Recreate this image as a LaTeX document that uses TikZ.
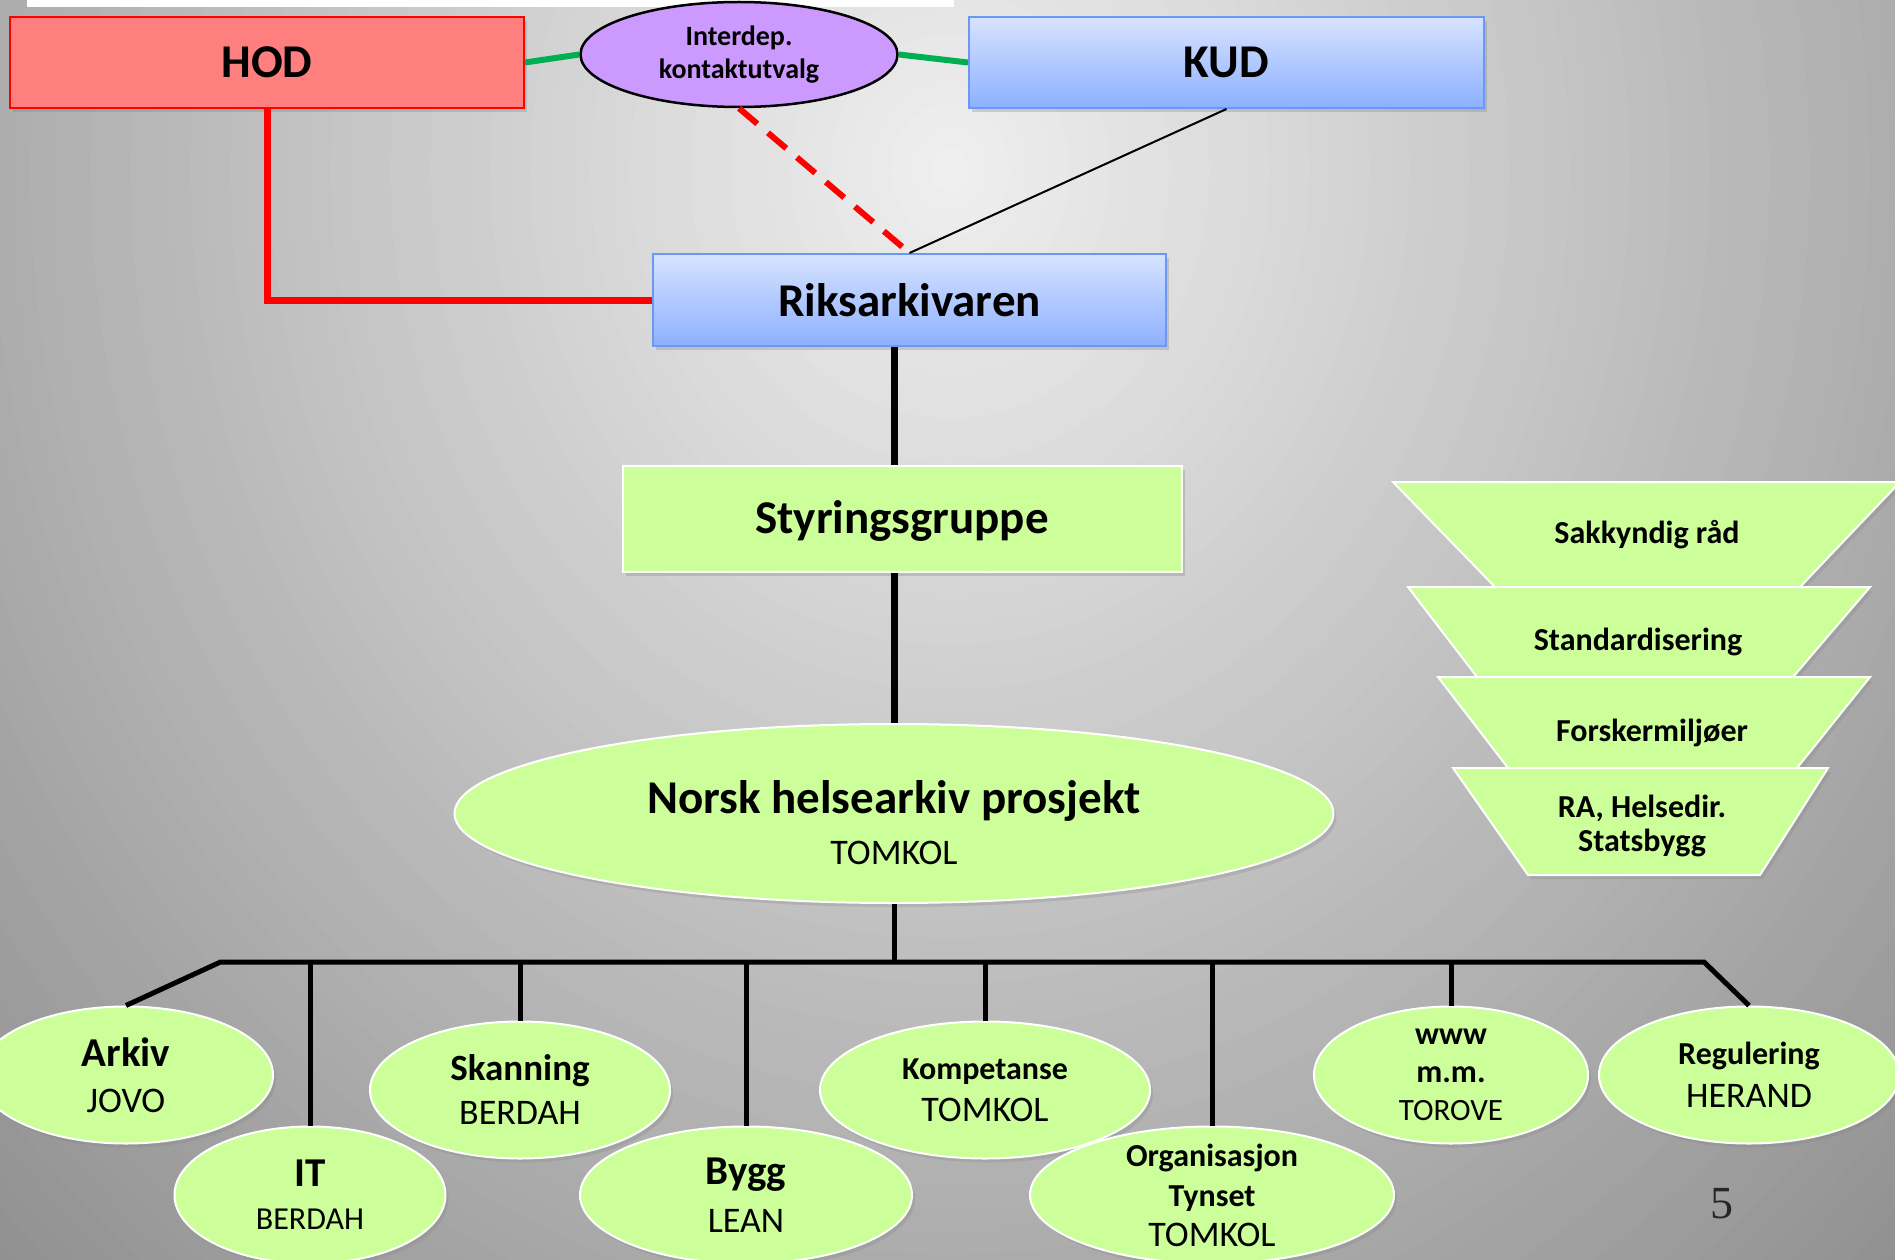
\documentclass[tikz,border=0pt]{standalone}
\usepackage{fontspec}
\setmainfont{Carlito}
\newfontfamily\slidenumfont{Liberation Serif}
\usetikzlibrary{positioning}
\usetikzlibrary{shapes.geometric, shadows}

\definecolor{hodred}{HTML}{FF7F7F}
\definecolor{lilac}{HTML}{CC99FF}
\definecolor{bluetop}{HTML}{D7E3FF}
\definecolor{bluebot}{HTML}{8DB0FF}
\definecolor{blueline}{HTML}{6A98F4}
\definecolor{leafgreen}{HTML}{CCFF99}
\definecolor{linkgreen}{HTML}{00B050}

\newcommand{\unithead}[2]{{\bfseries\fontsize{#1}{#1}\selectfont #2}}

\begin{document}
\begin{tikzpicture}[x=1pt, y=-1pt,
  dept/.style={rectangle, inner sep=0pt, line width=2pt,
    font=\bfseries\fontsize{47}{56}\selectfont,
    drop shadow={shadow xshift=3pt, shadow yshift=-4pt, opacity=0.3}},
  bluebox/.style={dept, draw=blueline, top color=bluetop, bottom color=bluebot},
  greenbox/.style={dept, draw=white, fill=leafgreen},
  unit/.style={ellipse, fill=leafgreen, draw=white, line width=2pt,
    inner sep=-20pt, align=center, minimum height=137pt,
    drop shadow={shadow xshift=3pt, shadow yshift=-4pt, opacity=0.25}},
  trap/.style={fill=leafgreen, draw=white, line width=2pt,
    drop shadow={shadow xshift=3pt, shadow yshift=-4pt, opacity=0.25}},
  traptext/.style={font=\bfseries\fontsize{32}{34}\selectfont, align=center},
  greenlink/.style={draw=linkgreen, line width=6pt},
  redlink/.style={draw=red, line width=7pt},
  thick link/.style={draw=black, line width=7pt},
  busline/.style={draw=black, line width=5pt}]

% background, light towards the top middle
\begin{scope}
\clip (0,0) rectangle (1895,1260);
\foreach \i in {0,...,72} {
  \pgfmathsetmacro{\rr}{1.44-\i*0.02}
  \pgfmathsetmacro{\pp}{(15+70*\rr)/2.55}
  \fill[black!\pp] (950,170) ellipse ({1000*\rr} and {1130*\rr});
}
\end{scope}
\useasboundingbox (0,0) rectangle (1895,1260);
\fill[white] (27,0) rectangle (954,7);

% top level
\node[dept, fill=hodred, draw=red, minimum width=514pt, minimum height=91pt] (HOD) at (267,62.5) {HOD};
\node[bluebox, minimum width=515pt, minimum height=91pt] (KUD) at (1226.5,62.5) {KUD};
\node[ellipse, fill=lilac, draw=black, line width=2.5pt, inner sep=-10pt,
  minimum width=317pt, minimum height=105pt, align=center,
  font=\bfseries\fontsize{28}{33}\selectfont] (Inter) at (739,54.5) {Interdep.\\kontaktutvalg};
\node[bluebox, minimum width=513pt, minimum height=92pt] (Riks) at (909.5,300) {Riksarkivaren};
\node[greenbox, minimum width=559pt, minimum height=106pt, text depth=3pt] (Styr) at (902,519) {Styringsgruppe};
\node[unit, minimum width=879pt, minimum height=179pt] (Norsk) at (894,813.5) {};
\node[align=center, font=\fontsize{36}{51}\selectfont] (NorskText) at (894,823) {\unithead{47}{Norsk helsearkiv prosjekt}\\TOMKOL};

% units, upper row
\node[unit, minimum width=294pt, font=\fontsize{36}{46}\selectfont] (Arkiv) at (126,1075) {\unithead{41}{Arkiv}\\JOVO};
\node[unit, minimum width=300pt, font=\fontsize{36}{44}\selectfont] (Skan) at (520,1090) {\unithead{37}{Skanning}\\BERDAH};
\node[unit, minimum width=330pt, font=\fontsize{36}{42}\selectfont] (Komp) at (985,1090) {\unithead{32}{Kompetanse}\\TOMKOL};
\node[unit, minimum width=274pt, font=\fontsize{31}{38}\selectfont] (www) at (1451,1075) {\unithead{32}{www}\\\unithead{32}{m.m.}\\TOROVE};
\node[unit, minimum width=300pt, font=\fontsize{36}{43}\selectfont] (Reg) at (1749,1075) {\unithead{32}{Regulering}\\HERAND};

% units, lower row
\node[unit, minimum width=271pt, font=\fontsize{32}{43}\selectfont] (IT) at (310,1195) {\unithead{41}{IT}\\BERDAH};
\node[unit, minimum width=332pt, font=\fontsize{36}{48}\selectfont] (Bygg) at (746,1195) {\unithead{41}{Bygg}\\LEAN};
\node[unit, minimum width=364pt, font=\fontsize{36}{40}\selectfont] (Org) at (1212,1195) {\unithead{32}{Organisasjon}\\\unithead{32}{Tynset}\\TOMKOL};

% advisory stack
\draw[trap] (1393,482) -- (1900,482) -- (1800,587) -- (1495,587) -- cycle;
\draw[trap] (1408,587) -- (1870,587) -- (1793,677) -- (1477,677) -- cycle;
\draw[trap] (1438,677) -- (1870,677) -- (1797,768) -- (1508,768) -- cycle;
\draw[trap] (1453,768) -- (1828,768) -- (1760,875) -- (1528,875) -- cycle;
\node[traptext] (sak) at (1647,535) {Sakkyndig råd};
\node[traptext] (std) at (1638,642) {Standardisering};
\node[traptext] (fors) at (1652,733) {Forskermiljøer};
\node[traptext] (ra) at (1642,826) {RA, Helsedir.\\Statsbygg};

\node[font=\slidenumfont\fontsize{46}{46}\selectfont, text=black!85] (pagenum) at (1722,1204) {5};

% connectors
\draw[greenlink] (HOD.east) -- (Inter.west);
\draw[greenlink] (Inter.east) -- (KUD.west);
\draw[draw=red, line width=6pt, dash pattern=on 24pt off 14pt] (Inter.south) -- (Riks.north);
\draw[line width=2pt] (KUD.south) -- (Riks.north);
\draw[redlink] (HOD.south) |- (Riks.west);
\draw[thick link] (Norsk.north |- Riks.south) -- (Norsk.north |- Styr.north);
\draw[thick link] (Norsk.north |- Styr.south) -- (Norsk.north);

\coordinate (busL) at (220.5,962);
\coordinate (busR) at (1704,962);
\draw[busline] (Norsk.south) -- (Norsk.south |- busL);
\draw[busline] (Arkiv.north) -- (busL) -- (busR) -- (Reg.north);
\foreach \u in {IT,Skan,Bygg,Komp,Org,www}
  \draw[busline] (\u.north |- busL) -- (\u.north);

\end{tikzpicture}
\end{document}
